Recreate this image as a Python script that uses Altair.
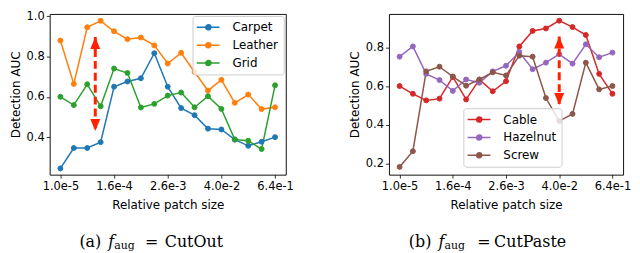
import altair as alt
import pandas as pd

# ---------------- data ----------------
steps = list(range(17))
tick_pos = [0, 4, 8, 12, 16]
tick_labels = ["1.0e-5", "1.6e-4", "2.6e-3", "4.0e-2", "6.4e-1"]

carpet = [0.245, 0.346, 0.346, 0.375, 0.650, 0.676, 0.692, 0.816, 0.650,
          0.544, 0.509, 0.442, 0.438, 0.388, 0.357, 0.377, 0.400]
leather = [0.879, 0.664, 0.945, 0.977, 0.925, 0.886, 0.894, 0.855, 0.765,
           0.818, 0.723, 0.631, 0.684, 0.570, 0.611, 0.539, 0.548]
grid = [0.600, 0.559, 0.662, 0.553, 0.740, 0.718, 0.547, 0.565, 0.606,
        0.621, 0.548, 0.603, 0.540, 0.388, 0.382, 0.341, 0.657]

cable = [0.600, 0.560, 0.526, 0.535, 0.647, 0.531, 0.633, 0.573, 0.625,
         0.805, 0.885, 0.898, 0.938, 0.905, 0.864, 0.663, 0.560]
hazelnut = [0.752, 0.805, 0.663, 0.631, 0.575, 0.634, 0.617, 0.676, 0.705,
            0.776, 0.687, 0.721, 0.765, 0.716, 0.816, 0.749, 0.773]
screw = [0.182, 0.263, 0.676, 0.700, 0.649, 0.602, 0.634, 0.671, 0.655,
         0.757, 0.752, 0.538, 0.419, 0.456, 0.721, 0.583, 0.600]

left_names = ["Carpet", "Leather", "Grid"]
left_colors = ["#1f77b4", "#ff7f0e", "#2ca02c"]
right_names = ["Cable", "Hazelnut", "Screw"]
right_colors = ["#d62728", "#9467bd", "#8c564b"]

left_arrow_x = [2.6]
left_arrow_top = [0.896]
left_arrow_bottom = [0.431]
right_arrow_x = [12.0]
right_arrow_top = [0.856]
right_arrow_bottom = [0.502]

left_caption = ["(a)", "f", "aug", "=", "CutOut"]
right_caption = ["(b)", "f", "aug", "=", "CutPaste"]

# ---------------- styling ----------------
RED = "#ff2200"
H = 162
SANS = "DejaVu Sans"
SERIF = "DejaVu Serif"
LEG_SYMBOL = ("M-1.252,0L2.748,0M0.34,0A0.443,0.443,0,1,1,1.226,0"
              "A0.443,0.443,0,1,1,0.34,0Z")
UP_HEAD = "M0,0L1,2.4L-1,2.4Z"
DOWN_HEAD = "M0,0L1,-2.4L-1,-2.4Z"

label_expr = "[" + ",".join("'%s'" % t for t in tick_labels) + "][datum.value/4]"


def panel(series, names, colors, ydom, yvals, lx, ly, ax, atop, abot,
          caption, cap_x, w):
    rows = []
    for n, vals in zip(names, series):
        for s, v in zip(steps, vals):
            rows.append({"step": s, "auc": v, "series": n})
    df = pd.DataFrame(rows)

    x = alt.X("step:Q",
              scale=alt.Scale(domain=[-0.8, 16.8], nice=False, zero=False),
              axis=alt.Axis(values=tick_pos, labelExpr=label_expr,
                            title="Relative patch size", labelFlush=False))
    y = alt.Y("auc:Q",
              scale=alt.Scale(domain=ydom, nice=False, zero=False),
              axis=alt.Axis(values=yvals, format=".1f",
                            title="Detection AUC"))
    leg = alt.Legend(title=None, orient="none", legendX=lx, legendY=ly,
                     symbolType=LEG_SYMBOL, symbolSize=132,
                     symbolStrokeWidth=1.5, labelOffset=22.3,
                     labelFontSize=12, labelFont=SANS, labelColor="#000",
                     rowPadding=5.0, padding=5, strokeColor="#cccccc",
                     fillColor="rgba(255,255,255,0.8)", cornerRadius=3)
    sc = alt.Scale(domain=names, range=colors)
    base = alt.Chart(df)
    lines = base.mark_line(strokeWidth=1.5).encode(
        x=x, y=y, stroke=alt.Stroke("series:N", scale=sc, legend=leg))
    pts = base.mark_point(filled=True, size=25, strokeWidth=1,
                          opacity=1).encode(
        x=x, y=y,
        stroke=alt.Stroke("series:N", scale=sc, legend=leg),
        fill=alt.Fill("series:N", scale=sc, legend=leg))

    adf = pd.DataFrame({"step": ax, "top": atop, "bottom": abot})
    abase = alt.Chart(adf)
    shaft = abase.mark_rule(color=RED, strokeWidth=3,
                            strokeDash=[8, 4]).encode(
        x="step:Q", y="top:Q", y2="bottom:Q")
    up = abase.mark_point(shape=UP_HEAD, size=100, filled=True, color=RED,
                          opacity=1, strokeWidth=0).encode(
        x="step:Q", y="top:Q")
    down = abase.mark_point(shape=DOWN_HEAD, size=100, filled=True,
                            color=RED, opacity=1, strokeWidth=0).encode(
        x="step:Q", y="bottom:Q")

    texts = []
    specs = [
        (caption[0], cap_x[0], H + 72.5, 16, "normal"),
        (caption[1], cap_x[1], H + 72.5, 16, "italic"),
        (caption[2], cap_x[2], H + 75, 11, "normal"),
        (caption[3], cap_x[3], H + 72.5, 16, "normal"),
        (caption[4], cap_x[4], H + 72.5, 16, "normal"),
    ]
    for t, px, py, fs, st in specs:
        texts.append(
            alt.Chart(pd.DataFrame({"t": [t]})).mark_text(
                align="left", baseline="alphabetic", font=SERIF,
                fontSize=fs, fontStyle=st, color="#000").encode(
                text="t:N", x=alt.value(px), y=alt.value(py)))

    return alt.layer(lines, pts, shaft, up, down, *texts).properties(
        width=w, height=H)


left = panel([carpet, leather, grid], left_names, left_colors,
             [0.214, 1.011], [0.4, 0.6, 0.8, 1.0], 144, 2,
             left_arrow_x, left_arrow_top, left_arrow_bottom,
             left_caption, [30, 59, 65, 96, 116], 238)
right = panel([cable, hazelnut, screw], right_names, right_colors,
              [0.142, 0.973], [0.2, 0.4, 0.6, 0.8], 75, 95,
              right_arrow_x, right_arrow_top, right_arrow_bottom,
              right_caption, [20, 50, 56, 89, 106], 236)

chart = alt.hconcat(left, right, spacing=104, bounds="flush").resolve_scale(
    stroke="independent", fill="independent"
).resolve_legend(
    stroke="independent", fill="independent"
).properties(padding=0).configure_view(
    stroke="#111111", strokeWidth=1
).configure_axis(
    domain=False, grid=False, tickColor="#000", tickSize=3.5,
    tickWidth=0.8, labelColor="#000", titleColor="#000", labelFont=SANS,
    titleFont=SANS, labelFontSize=11.5, titleFontSize=12,
    titleFontWeight="normal"
).configure_axisX(
    labelPadding=2, titlePadding=8
).configure_axisY(
    labelPadding=2, titlePadding=4
)

chart.save("out.html", embed_options={"renderer": "svg", "actions": False})
